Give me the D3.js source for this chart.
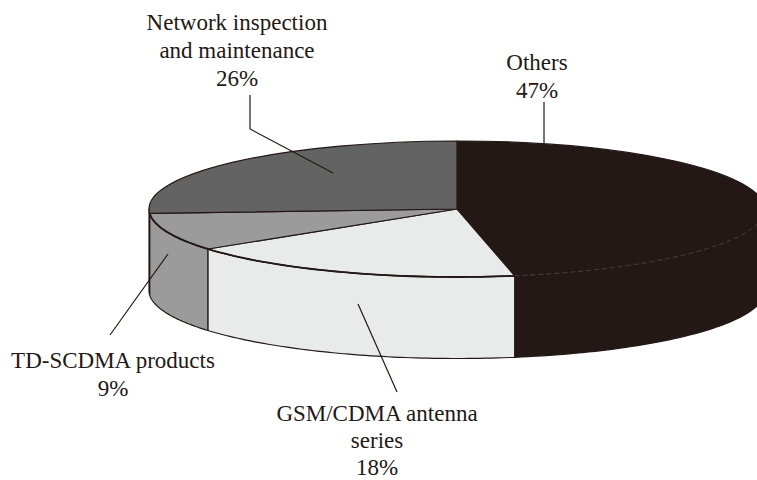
<!DOCTYPE html>
<html>
<head>
<meta charset="utf-8">
<style>
  html, body { margin: 0; padding: 0; background: #fff; overflow: hidden; }
  svg { display: block; }
</style>
<script src="https://cdn.jsdelivr.net/npm/d3@7"></script>
</head>
<body>
<div id="chart"></div>
<script>
(function () {
  "use strict";

  // Clockwise from twelve o'clock, same order as the picture
  const categories = ["Others", "GSM/CDMA antenna series", "TD-SCDMA products", "Network inspection and maintenance"];
  const shares = [47, 18, 9, 26];
  const fills = ["#231815", "#e9ebea", "#9b9b9b", "#636363"];
  const labelLines = [
    ["Others", "47%"],
    ["GSM/CDMA antenna", "series", "18%"],
    ["TD-SCDMA products", "9%"],
    ["Network inspection", "and maintenance", "26%"]
  ];

  var W = 757, H = 480;
  var INK = "#231815";
  var FONT = "'Liberation Serif', 'Times New Roman', serif";

  // Tilted disc
  var CX = 457, CY = 209, RX = 308, RY = 68, DEPTH = 81.5;

  // Label anchors and leader polylines, in pixels
  var labelPos = [
    { x: 537, y: 70, step: 28 },
    { x: 377, y: 421, step: 27 },
    { x: 113, y: 368, step: 28 },
    { x: 237, y: 30, step: 28 }
  ];
  var leaders = [
    [[544, 102], [544, 143]],
    [[397, 392], [358, 304]],
    [[110, 335], [168, 254]],
    [[250, 95], [250, 129], [333, 173]]
  ];

  var svg = d3.select("#chart").append("svg")
    .attr("width", W).attr("height", H)
    .attr("viewBox", "0 0 " + W + " " + H);

  var pie = d3.pie().sort(null).value(function (d) { return d; });
  var slices = pie(shares);

  function px(a) { return CX + RX * Math.sin(a); }
  function py(a) { return CY - RY * Math.cos(a); }

  var line = d3.line();

  function arcPoints(a0, a1) {
    return d3.range(0, 61).map(function (i) {
      var a = a0 + (a1 - a0) * i / 60;
      return [px(a), py(a)];
    });
  }

  // Front wall: only the part of each slice facing the viewer (90deg..270deg)
  function wallPath(d) {
    var a0 = Math.max(d.startAngle, Math.PI / 2);
    var a1 = Math.min(d.endAngle, Math.PI * 1.5);
    if (a1 <= a0) return null;
    var pts = arcPoints(a0, a1);
    var bottom = pts.slice().reverse().map(function (p) { return [p[0], p[1] + DEPTH]; });
    return line(pts.concat(bottom)) + "Z";
  }

  svg.append("g").selectAll("path")
    .data(slices)
    .enter().append("path")
    .attr("d", wallPath)
    .attr("fill", function (d, i) { return fills[i]; })
    .attr("stroke", INK)
    .attr("stroke-width", 1.2)
    .attr("stroke-linejoin", "round");

  // Top face: unit arc squashed into the ellipse
  var arc = d3.arc().innerRadius(0).outerRadius(1);
  svg.append("g")
    .attr("transform", "translate(" + CX + "," + CY + ") scale(" + RX + "," + RY + ")")
    .selectAll("path")
    .data(slices)
    .enter().append("path")
    .attr("d", arc)
    .attr("fill", function (d, i) { return fills[i]; })
    .attr("stroke", INK)
    .attr("stroke-width", 1.2)
    .attr("stroke-linejoin", "round")
    .attr("vector-effect", "non-scaling-stroke");

  // Heavier front edge over the two light slices
  svg.append("path")
    .attr("d", line(arcPoints(slices[1].startAngle, slices[2].endAngle)))
    .attr("fill", "none")
    .attr("stroke", INK)
    .attr("stroke-width", 1.8);

  // Faint rim where the dark slice's top meets its wall
  svg.append("path")
    .attr("d", line(arcPoints(Math.PI / 2, slices[0].endAngle)))
    .attr("fill", "none")
    .attr("stroke", "#6f6764")
    .attr("stroke-width", 0.5)
    .attr("stroke-dasharray", "5,3");

  // Leader lines
  svg.append("g").selectAll("path")
    .data(leaders)
    .enter().append("path")
    .attr("d", line)
    .attr("fill", "none")
    .attr("stroke", INK)
    .attr("stroke-width", 1.2);

  // Labels
  labelLines.forEach(function (lines, i) {
    var t = svg.append("text")
      .attr("text-anchor", "middle")
      .attr("font-family", FONT)
      .attr("font-size", "23px")
      .attr("fill", INK)
      .attr("data-category", categories[i]);
    lines.forEach(function (s, li) {
      t.append("tspan")
        .attr("x", labelPos[i].x)
        .attr("y", labelPos[i].y + li * labelPos[i].step)
        .text(s);
    });
  });
})();
</script>
</body>
</html>
